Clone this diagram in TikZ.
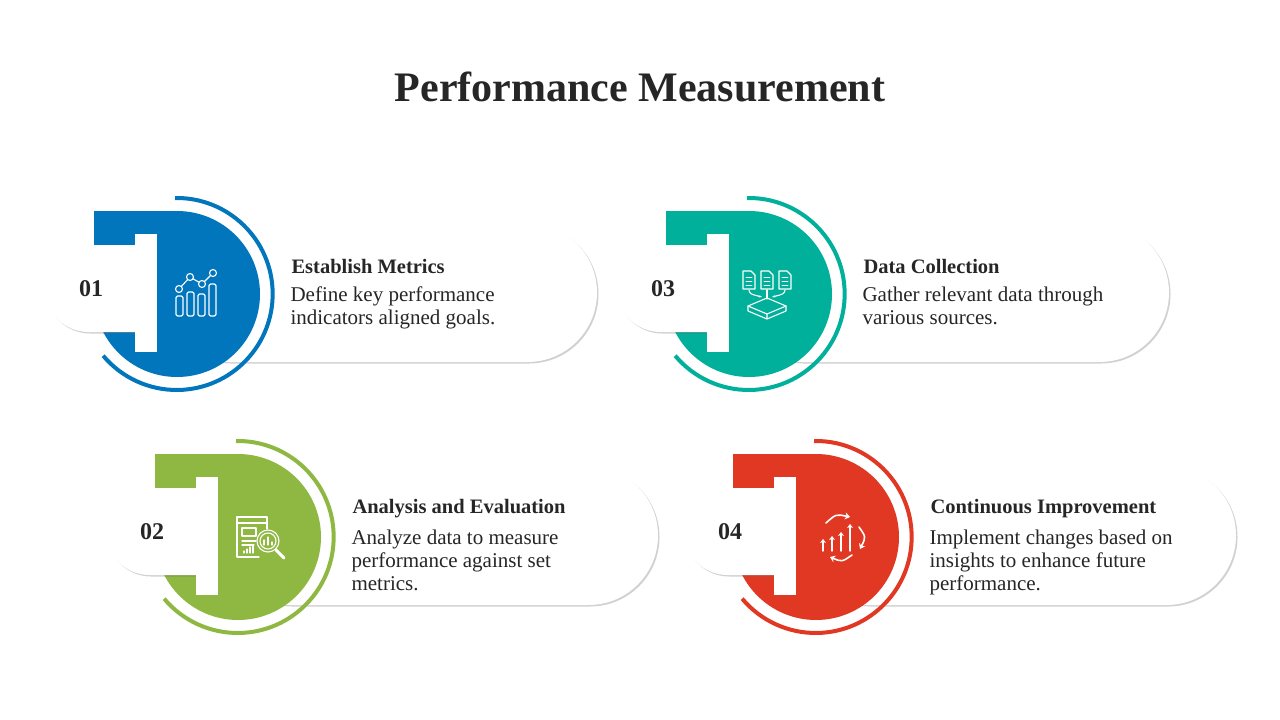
\documentclass[tikz,border=0pt]{standalone}
\usepackage{fontspec}
\setmainfont{Liberation Serif}
\usetikzlibrary{shadows,arrows.meta}
\definecolor{cblue}{RGB}{2,118,188}
\definecolor{cteal}{RGB}{0,176,154}
\definecolor{cgreen}{RGB}{143,184,67}
\definecolor{cred}{RGB}{224,56,34}
\definecolor{txt}{RGB}{38,38,38}
\tikzset{
  pill/.style={fill=white,drop shadow={shadow xshift=1.5pt,shadow yshift=-1.5pt,opacity=0.3,fill=black!60}},
  ico/.style={draw=white,line width=1.1pt,line cap=round,line join=round},
  ttl/.style={anchor=west,font=\fontsize{20.5}{22}\selectfont\bfseries,text=txt},
  bdy/.style={anchor=north west,align=left,font=\fontsize{21}{23}\selectfont,text=txt},
  num/.style={font=\fontsize{24}{26}\selectfont\bfseries,text=txt}
}
\newcommand{\pmcard}[7]{%
\begin{scope}[shift={(#1,#2)}]
  \path[pill,rounded corners=69.5pt] (160,223) rectangle (597,362);
  \fill[#3] (94,211) -- (177,211) arc[start angle=90,end angle=-180,radius=83pt] -- cycle;
  \draw[#3,line width=4pt] (175,198) arc[start angle=91,end angle=-140,radius=96pt];
  \path[pill] (150,245) -- (88.5,245) arc[start angle=90,end angle=270,radius=43.5pt] -- (150,332) -- cycle;
  \fill[white] (135,234) rectangle (157,352);
  \node[num] (n#4) at (91,289) {#4};
  \node[ttl] (t#4) at (288,266) {#5};
  \node[bdy] (b#4) at (287,283) {#6};
  \begin{scope}[shift={(201,294)}]#7\end{scope}
\end{scope}}
\begin{document}
\begin{tikzpicture}[x=1pt,y=-1pt]
\useasboundingbox (0,0) rectangle (1280,720);
\node[font=\fontsize{42}{44}\selectfont\bfseries,text=txt] (title) at (640,87) {Performance Measurement};
% card 1
\pmcard{0}{0}{cblue}{01}{Establish Metrics}{Define key performance\\indicators aligned goals.}{%
  \draw[ico,rounded corners=1.5pt] (-25,2) rectangle (-18,22) (-14,-2) rectangle (-7,22) (-3,0) rectangle (4,22) (8,-10) rectangle (15,22);
  \draw[ico] (-22,-5) -- (-11,-17) -- (1,-10) -- (12,-21);
  \foreach \p in {(-22,-5),(-11,-17),(1,-10),(12,-21)} \draw[ico,fill=cblue] \p circle (3.5pt);
}
% card 3
\pmcard{572}{0}{cteal}{03}{Data Collection}{Gather relevant data through\\various sources.}{%
  \begin{scope}[shift={(-25,0)}]
  \foreach \dx in {0,18,36}{
    \draw[ico] (\dx-5,-23) -- (\dx+3,-23) -- (\dx+7,-19) -- (\dx+7,-5) -- (\dx-5,-5) -- cycle;
    \draw[ico,line width=0.8pt] (\dx-2,-17) -- (\dx+4,-17) (\dx-2,-13) -- (\dx+4,-13) (\dx-2,-9) -- (\dx+4,-9);}
  \draw[ico,-{Stealth[length=3pt]}] (1,-4) .. controls (2,0) .. (14,3);
  \draw[ico,-{Stealth[length=3pt]}] (19,-4) -- (19,6);
  \draw[ico,-{Stealth[length=3pt]}] (37,-4) .. controls (36,0) .. (24,3);
  \draw[ico] (0,12) -- (19,4) -- (38,12) -- (19,20) -- cycle;
  \draw[ico] (0,12) -- (0,17) -- (19,25) -- (38,17) -- (38,12) (19,20) -- (19,25);
  \end{scope}
}
% card 2
\pmcard{61}{243}{cgreen}{02}{Analysis and Evaluation}{Analyze data to measure\\performance against set\\metrics.}{%
  \draw[ico] (-3,20) -- (-25,20) -- (-25,-20) -- (5,-20) -- (5,-8);
  \draw[ico] (-25,-14) -- (5,-14);
  \draw[ico] (-20,-9) rectangle (-6,-1);
  \draw[ico] (-20,4) -- (-6,4) (-20,8) -- (-8,8);
  \draw[ico] (-18,16) -- (-18,14) (-15,16) -- (-15,12) (-12,16) -- (-12,10) (-9,16) -- (-9,8);
  \draw[ico,fill=cgreen] (6,4) circle (11pt);
  \draw[ico] (6,4) circle (8pt);
  \draw[ico] (2,8) -- (2,3) (6,8) -- (6,0) (10,8) -- (10,5);
  \draw[ico,line width=3pt] (14,13) -- (22,21);
}
% card 4
\pmcard{639}{243}{cred}{04}{Continuous Improvement}{Implement changes based on\\insights to enhance future\\performance.}{%
  \draw[ico,line width=1.6pt,-{Stealth[length=5pt,width=7pt]}] (-14,-14) .. controls (-4,-23) .. (10,-20);
  \draw[ico,line width=1.6pt,-{Stealth[length=5pt,width=7pt]}] (19,-10) .. controls (26,0) .. (20,12);
  \draw[ico,line width=1.6pt,-{Stealth[length=5pt,width=7pt]}] (12,18) .. controls (2,25) .. (-10,20);
  \foreach \x/\h in {-17/2,-8/-1,1/-5,10/-13}
    \draw[ico,line width=1.4pt,-{Stealth[length=4pt,width=6pt]}] (\x,14) -- (\x,\h);
}
\end{tikzpicture}
\end{document}
